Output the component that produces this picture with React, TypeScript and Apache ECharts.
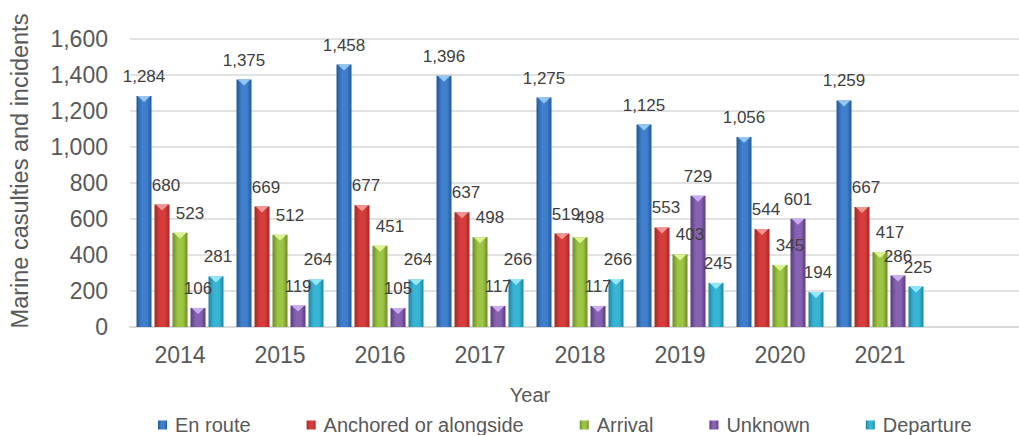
import React, { useEffect, useRef } from "react";
import * as echarts from "echarts";

const years = ["2014", "2015", "2016", "2017", "2018", "2019", "2020", "2021"];
const enRoute = [1284, 1375, 1458, 1396, 1275, 1125, 1056, 1259];
const anchored = [680, 669, 677, 637, 519, 553, 544, 667];
const arrival = [523, 512, 451, 498, 498, 403, 345, 417];
const unknown = [106, 119, 105, 117, 117, 729, 601, 286];
const departure = [281, 264, 264, 266, 266, 245, 194, 225];
const seriesNames = ["En route", "Anchored or alongside", "Arrival", "Unknown", "Departure"];
const yTicks = { min: 0, max: 1600, interval: 200 };

const FONT = "'Liberation Sans', Arial, Helvetica, sans-serif";

const palette = [
  { edge: "#23589a", mid: "#3f7fcc", tri: "#93c6f4", lx: 0 },
  { edge: "#a42626", mid: "#d63d3a", tri: "#f39590", lx: 4 },
  { edge: "#6c8c28", mid: "#9dc443", tri: "#dcf291", lx: 10 },
  { edge: "#5a3a7e", mid: "#8762b1", tri: "#c9acee", lx: 0 },
  { edge: "#1b85a1", mid: "#38b5d4", tri: "#93e8f8", lx: 2 },
];

const fmt = (v: number) => v.toLocaleString("en-US");

export default function App() {
  const ref = useRef<HTMLDivElement>(null);
  useEffect(() => {
    if (!ref.current) return;
    const chart = echarts.init(ref.current, undefined, { renderer: "svg" });
    const datasets = [enRoute, anchored, arrival, unknown, departure];
    const barSeries: any[] = datasets.map((d, i) => ({
      type: "bar",
      name: seriesNames[i],
      data: d,
      barWidth: 15,
      barGap: "20%",
      itemStyle: {
        color: new echarts.graphic.LinearGradient(0, 0, 1, 0, [
          { offset: 0, color: palette[i].edge },
          { offset: 0.35, color: palette[i].mid },
          { offset: 0.7, color: palette[i].mid },
          { offset: 1, color: palette[i].edge },
        ]),
      },
      label: {
        show: true,
        position: "top",
        distance: 11,
        offset: [palette[i].lx, 0],
        color: "#404040",
        fontSize: 17,
        fontFamily: FONT,
        formatter: (p: any) => fmt(p.value),
      },
      z: 2,
    }));
    const triSeries: any[] = datasets.map((d, i) => ({
      type: "pictorialBar",
      name: "tri" + i,
      data: d,
      barWidth: 15,
      barGap: "20%",
      symbol: "triangle",
      symbolRotate: 180,
      symbolSize: [13, 6],
      symbolPosition: "end",
      silent: true,
      itemStyle: { color: palette[i].tri },
      z: 3,
    }));
    chart.setOption({
      animation: false,
      grid: {
        left: 130,
        width: 900,
        top: 39,
        bottom: 108,
        containLabel: false,
        outerBoundsMode: "none",
      },
      legend: {
        data: seriesNames,
        left: 158,
        top: 415,
        padding: 0,
        icon: "rect",
        itemWidth: 9,
        itemHeight: 9,
        itemGap: 56,
        textStyle: { color: "#595959", fontSize: 20, fontFamily: FONT, padding: [0, 0, 0, 3] },
      },
      xAxis: {
        type: "category",
        data: years,
        max: years.length,
        axisLine: { lineStyle: { color: "#d9d9d9", width: 2 } },
        axisTick: { show: false },
        axisLabel: {
          color: "#595959",
          fontSize: 23,
          fontFamily: FONT,
          margin: 16,
          formatter: (v: any) => (v === undefined || v === null ? "" : String(v)),
        },
      },
      yAxis: {
        type: "value",
        min: yTicks.min,
        max: yTicks.max,
        interval: yTicks.interval,
        axisLine: { show: false },
        axisTick: { show: false },
        splitLine: { lineStyle: { color: "#d9d9d9", width: 1.5 } },
        axisLabel: {
          color: "#595959",
          fontSize: 23,
          fontFamily: FONT,
          margin: 22,
          formatter: (v: number) => fmt(v),
        },
      },
      graphic: [
        {
          type: "text",
          x: 20,
          y: 171,
          rotation: Math.PI / 2,
          style: {
            text: "Marine casulties and incidents",
            fill: "#595959",
            font: `23.5px ${FONT}`,
            textAlign: "center",
            textVerticalAlign: "middle",
          },
        },
        {
          type: "text",
          x: 530,
          y: 395,
          style: {
            text: "Year",
            fill: "#595959",
            font: `20px ${FONT}`,
            textAlign: "center",
            textVerticalAlign: "middle",
          },
        },
      ],
      series: [...barSeries, ...triSeries],
    });
    return () => chart.dispose();
  }, []);
  return <div ref={ref} style={{ width: 1019, height: 435, position: "absolute", left: 0, top: 0 }} />;
}
